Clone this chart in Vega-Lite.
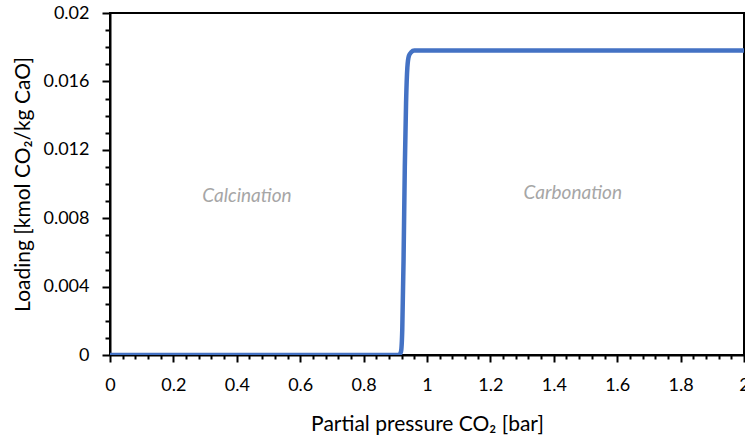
{
  "$schema": "https://vega.github.io/schema/vega-lite/v6.json",
  "autosize": {"type": "none"},
  "padding": {"left": 110, "top": 13, "right": 1, "bottom": 88},
  "width": 634,
  "height": 342,
  "background": "white",
  "config": {
    "view": {"stroke": "black", "strokeWidth": 2},
    "font": "Lato"
  },
  "datasets": {
    "curve": [
      {"p": 0, "q": 0},
      {"p": 0.5, "q": 0},
      {"p": 0.9, "q": 0},
      {"p": 0.912, "q": 0.00001},
      {"p": 0.918, "q": 0.0002},
      {"p": 0.922, "q": 0.0015},
      {"p": 0.926, "q": 0.0055},
      {"p": 0.93, "q": 0.011},
      {"p": 0.934, "q": 0.0148},
      {"p": 0.938, "q": 0.0168},
      {"p": 0.943, "q": 0.0175},
      {"p": 0.95, "q": 0.0177},
      {"p": 0.96, "q": 0.0178},
      {"p": 1.2, "q": 0.0178},
      {"p": 2, "q": 0.0178}
    ],
    "notes": [
      {"p": 0.432, "q": 0.0093, "label": "Calcination"},
      {"p": 1.46, "q": 0.0095, "label": "Carbonation"}
    ]
  },
  "encoding": {
    "x": {
      "field": "p", "type": "quantitative",
      "scale": {"domain": [0, 2], "nice": false, "zero": false},
      "axis": {
        "title": "Partial pressure CO₂ [bar]",
        "titleFontSize": 21, "titleFontWeight": "normal", "titleColor": "black", "titlePadding": 19,
        "values": [0,0.04,0.08,0.12,0.16,0.2,0.24,0.28,0.32,0.36,0.4,0.44,0.48,0.52,0.56,0.6,0.64,0.68,0.72,0.76,0.8,0.84,0.88,0.92,0.96,1,1.04,1.08,1.12,1.16,1.2,1.24,1.28,1.32,1.36,1.4,1.44,1.48,1.52,1.56,1.6,1.64,1.68,1.72,1.76,1.8,1.84,1.88,1.92,1.96,2],
        "labelExpr": "abs(datum.value*5 - round(datum.value*5)) < 1e-6 ? format(datum.value, '~g') : ''",
        "labelFontSize": 18, "labelColor": "black", "labelPadding": 14, "labelFlush": false, "labelOverlap": false,
        "grid": false,
        "domainColor": "black", "domainWidth": 2,
        "tickColor": "black", "tickWidth": 2,
        "tickSize": {"condition": {"test": "abs(datum.value*5 - round(datum.value*5)) < 1e-6", "value": 7}, "value": 4}
      }
    },
    "y": {
      "field": "q", "type": "quantitative",
      "scale": {"domain": [0, 0.02], "nice": false},
      "axis": {
        "title": "Loading [kmol CO₂/kg CaO]",
        "titleFontSize": 21, "titleFontWeight": "normal", "titleColor": "black", "titlePadding": 9,
        "values": [0,0.001,0.002,0.003,0.004,0.005,0.006,0.007,0.008,0.009,0.01,0.011,0.012,0.013,0.014,0.015,0.016,0.017,0.018,0.019,0.02],
        "labelExpr": "abs(datum.value*250 - round(datum.value*250)) < 1e-6 ? format(datum.value, '~g') : ''",
        "labelFontSize": 18, "labelColor": "black", "labelPadding": 13, "labelFlush": false, "labelOverlap": false,
        "grid": false,
        "domainColor": "black", "domainWidth": 2,
        "tickColor": "black", "tickWidth": 2,
        "tickSize": {"condition": {"test": "abs(datum.value*250 - round(datum.value*250)) < 1e-6", "value": 8}, "value": 5}
      }
    }
  },
  "layer": [
    {
      "data": {"name": "curve"},
      "mark": {"type": "line", "color": "#4472C4", "strokeWidth": 4.5, "interpolate": "monotone", "clip": true}
    },
    {
      "data": {"name": "notes"},
      "mark": {"type": "text", "fontStyle": "italic", "fontSize": 19, "color": "#A6A6A6"},
      "encoding": {
        "text": {"field": "label"}
      }
    }
  ]
}
